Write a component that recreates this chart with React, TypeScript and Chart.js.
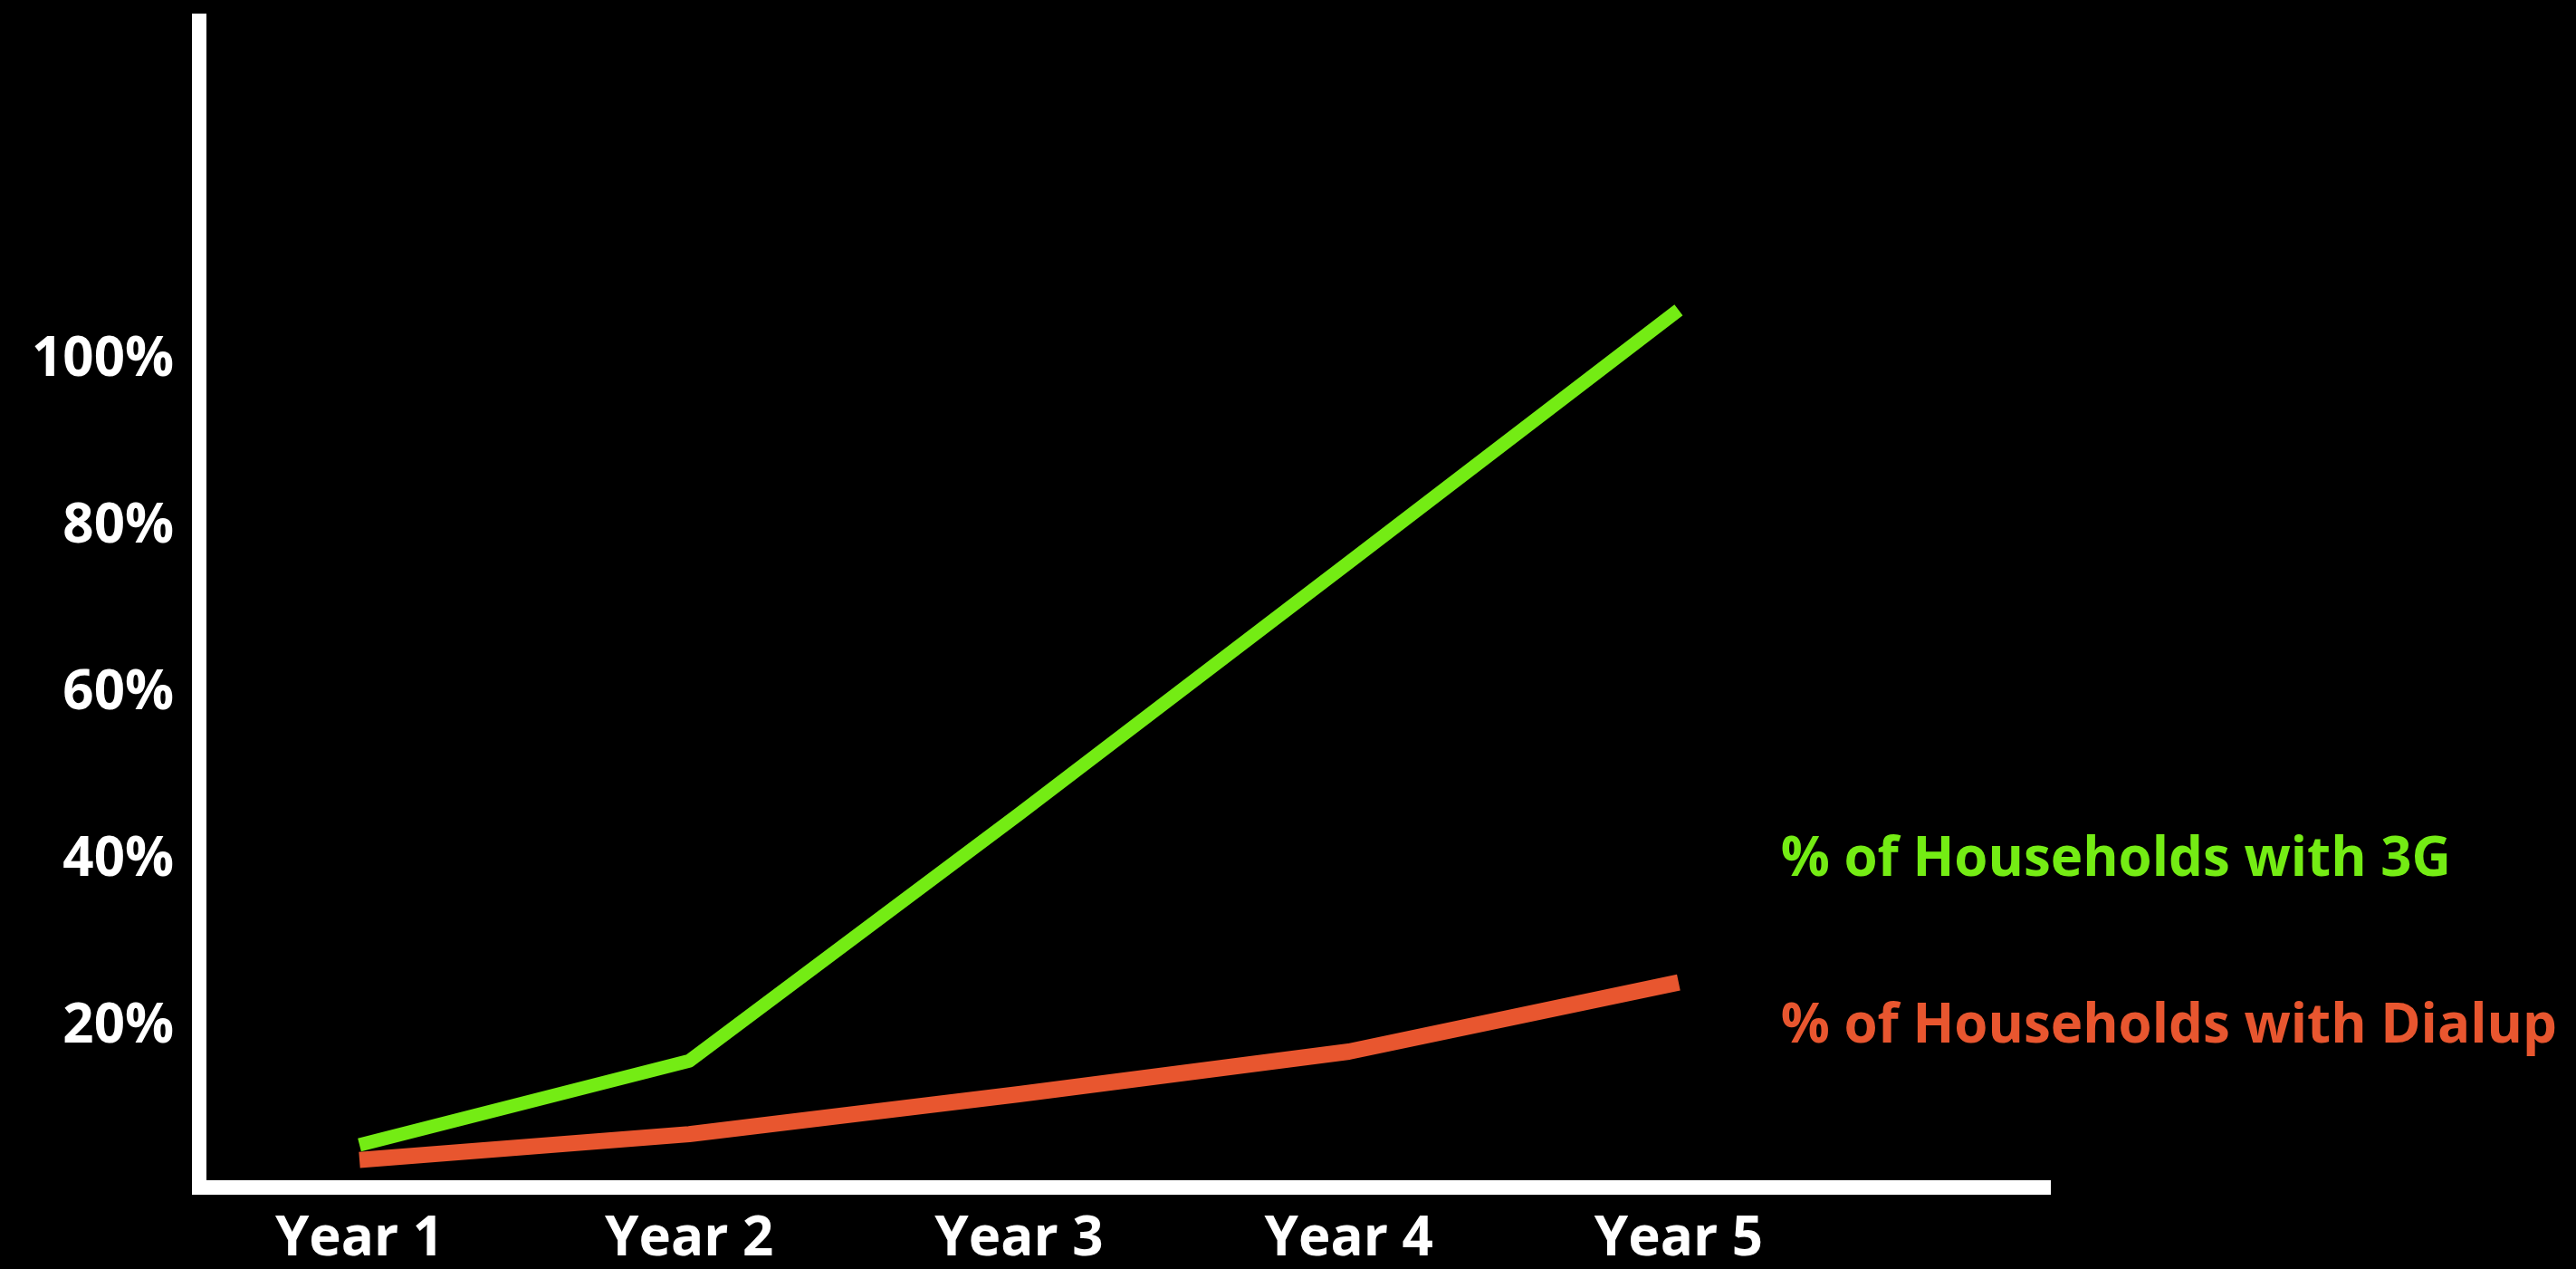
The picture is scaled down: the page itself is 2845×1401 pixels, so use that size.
import React, { useEffect, useRef } from "react";
import { Chart, registerables } from "chart.js";

Chart.register(...registerables);

const categories = ["Year 1", "Year 2", "Year 3", "Year 4", "Year 5"];
const threeG = [5.1, 15.2, 44.8, 75.0, 105.3];
const dialup = [3.3, 6.4, 11.2, 16.3, 24.6];
const yTickValues = [20, 40, 60, 80, 100];
const seriesLabels = ["% of Households with 3G", "% of Households with Dialup"];
const labelAnchorY = [40, 20];
const labelAnchorX = 5.31;

const GREEN = "#74EC14";
const RED = "#E8562F";
const FONT = '"Open Sans", "DejaVu Sans", sans-serif';

export default function App() {
  const ref = useRef<HTMLCanvasElement | null>(null);

  useEffect(() => {
    const canvas = ref.current;
    if (!canvas) return;

    const sideLabels = {
      id: "sideLabels",
      afterDraw(chart: any) {
        const ctx = chart.ctx;
        const xs = chart.scales.x;
        const ys = chart.scales.y;
        const colors = [GREEN, RED];
        ctx.save();
        ctx.font = `bold 60px ${FONT}`;
        ctx.textAlign = "left";
        ctx.textBaseline = "middle";
        seriesLabels.forEach((t, i) => {
          ctx.fillStyle = colors[i];
          ctx.fillText(t, xs.getPixelForValue(labelAnchorX), ys.getPixelForValue(labelAnchorY[i]) + 7);
        });
        ctx.restore();
      },
    };

    const chart = new Chart(canvas, {
      type: "line",
      data: {
        datasets: [
          {
            label: seriesLabels[0],
            data: threeG.map((v, i) => ({ x: i + 1, y: v })),
            borderColor: GREEN,
            borderWidth: 15,
            pointRadius: 0,
            borderJoinStyle: "round",
            borderCapStyle: "butt",
            tension: 0,
          },
          {
            label: seriesLabels[1],
            data: dialup.map((v, i) => ({ x: i + 1, y: v })),
            borderColor: RED,
            borderWidth: 18,
            pointRadius: 0,
            borderJoinStyle: "round",
            borderCapStyle: "butt",
            tension: 0,
          },
        ],
      },
      options: {
        animation: false,
        responsive: false,
        devicePixelRatio: 1,
        layout: { padding: { top: 23, right: 581, left: 0, bottom: 0 } },
        plugins: { legend: { display: false }, tooltip: { enabled: false } },
        scales: {
          x: {
            type: "linear",
            min: 0.514,
            max: 6.126,
            grid: { display: false, drawTicks: false },
            border: { display: true, color: "#ffffff", width: 16 },
            afterBuildTicks: (scale: any) => {
              scale.ticks = categories.map((_, i) => ({ value: i + 1 }));
            },
            afterFit: (scale: any) => {
              scale.height = 90;
              scale.paddingLeft = 0;
              scale.paddingRight = 0;
            },
            ticks: {
              color: "#ffffff",
              font: { family: FONT, size: 60, weight: "bold" },
              padding: 22,
              maxRotation: 0,
              autoSkip: false,
              callback: (v: any) => categories[Math.round(Number(v)) - 1] ?? "",
            },
          },
          y: {
            type: "linear",
            min: 0,
            max: 140,
            grid: { display: false, drawTicks: false },
            border: { display: true, color: "#ffffff", width: 16 },
            afterBuildTicks: (scale: any) => {
              scale.ticks = yTickValues.map((v) => ({ value: v }));
            },
            afterFit: (scale: any) => {
              scale.width = 220;
              scale.paddingTop = 0;
              scale.paddingBottom = 0;
            },
            ticks: {
              color: "#ffffff",
              font: { family: FONT, size: 60, weight: "bold" },
              padding: 28,
              labelOffset: 7,
              callback: (v: any) => `${v}%`,
            },
          },
        },
      },
      plugins: [sideLabels],
    });

    return () => chart.destroy();
  }, []);

  return (
    <div
      style={{
        position: "fixed",
        left: 0,
        top: 0,
        width: 2845,
        height: 1401,
        background: "#000000",
      }}
    >
      <canvas ref={ref} width={2845} height={1401} style={{ width: 2845, height: 1401, display: "block" }} />
    </div>
  );
}
